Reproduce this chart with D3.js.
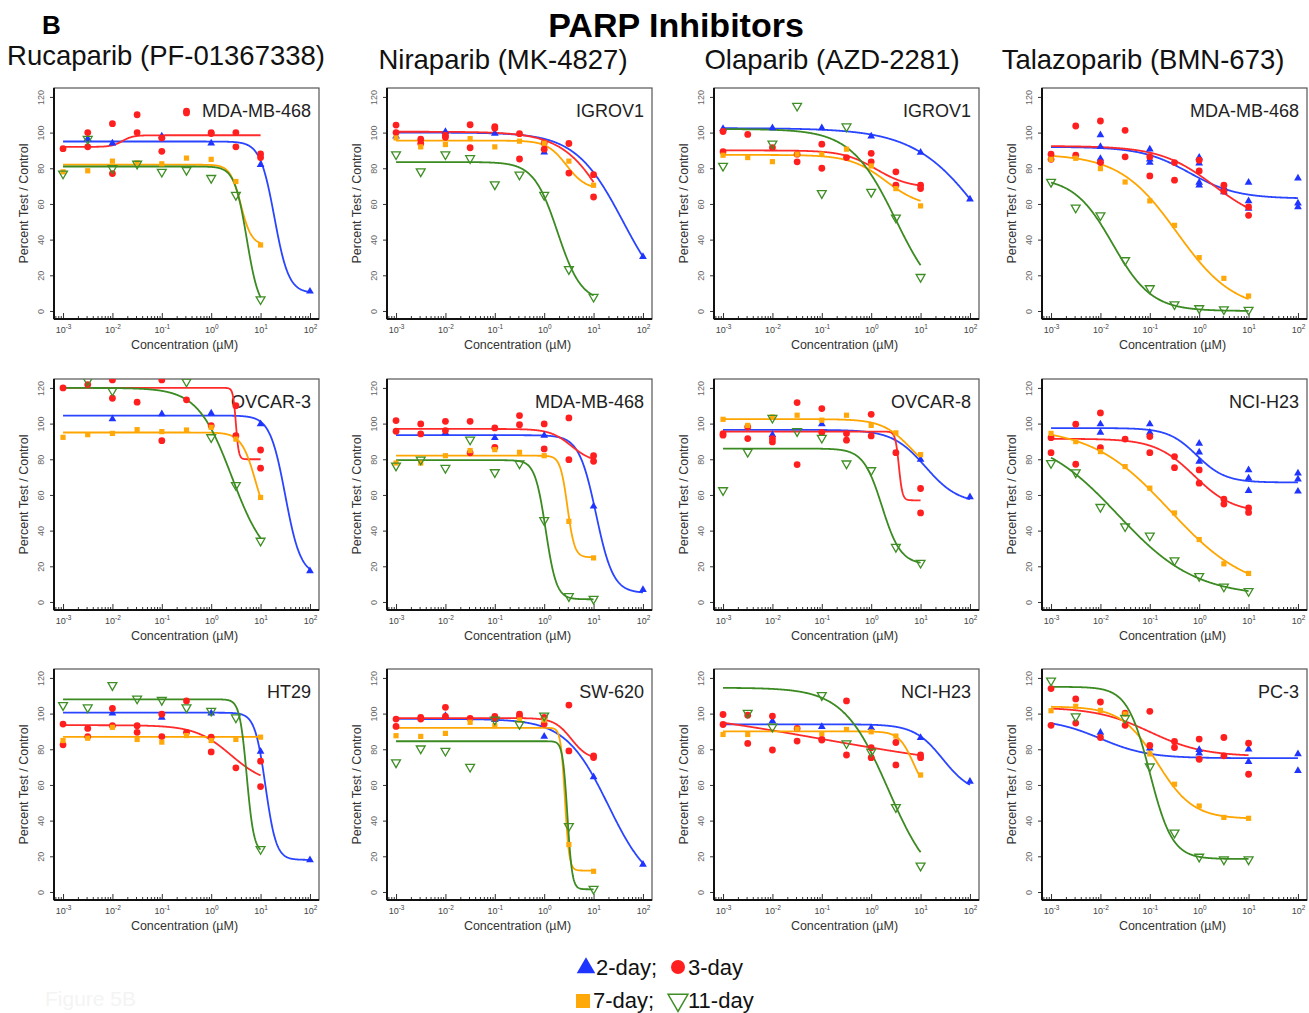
<!DOCTYPE html>
<html>
<head>
<meta charset="utf-8">
<script src="https://cdn.jsdelivr.net/npm/d3@7"></script>
<style>
  body { margin: 0; background: #ffffff; }
  text { font-family: "Liberation Sans", Arial, sans-serif; }
</style>
</head>
<body>
<script>
// Chart values.
const drugNames = ['Rucaparib (PF-01367338)', 'Niraparib (MK-4827)', 'Olaparib (AZD-2281)', 'Talazoparib (BMN-673)'];
const seriesNames = ['2-day', '3-day', '7-day', '11-day'];
const yTicks = [0, 20, 40, 60, 80, 100, 120];
const xTickExps = [-3, -2, -1, 0, 1, 2];

// Points are [log10 concentration (uM), percent test / control], one list per series: 2, 3, 7, 11 day.
// Fits are [top, bottom, log10 EC50, hill slope, log10 from, log10 to] for the same series.
const rucaMDA468Pts = [
  [[-2.5,96.6],[-2,94],[-1,98],[0,94],[1,82],[2,11]],
  [[-3,91],[-2.5,100],[-2.5,92],[-2,105],[-2,77],[-1.5,110],[-1.5,100],[-1,97],[-1,89.5],[-0.5,112],[-0.5,111],[0,100],[0,99.5],[0.5,100],[0.5,92],[1,88],[1,86]],
  [[-3,78],[-2.5,78.6],[-2,84],[-1.5,83],[-1,82.5],[-0.5,85.7],[0,85],[0.5,72.6],[1,37]],
  [[-3,77],[-2.5,96.4],[-2,80],[-1.5,82.5],[-1,78],[-0.5,79],[0,74.5],[0.5,65],[1,6.5]]
];
const rucaMDA468Fit = [[95,10,1.28,3,-3,2],[92,98.5,-1.8,4,-3,1],[82,37,0.6,4,-3,1],[81,0,0.72,3.5,-3,1]];

const niraIGROV1Pts = [
  [[-3,98],[-2,100.5],[-1,99.5],[0,89],[2,30.4]],
  [[-3,104.2],[-3,100],[-2.5,96.3],[-2.5,93.9],[-2,98.5],[-2,97.4],[-1.5,104.4],[-1.5,91.5],[-1,103.4],[-1,102.5],[-0.5,99.4],[-0.5,85.2],[0,94.2],[0,90.7],[0.5,93.9],[0.5,77.3],[1,76.4],[1,63.9]],
  [[-3,97],[-2.5,92],[-2,93.3],[-1.5,96.6],[-1,92],[-0.5,95.2],[0,94],[0.5,84],[1,70.5]],
  [[-3,87.8],[-2.5,78.2],[-2,87.8],[-1.5,85.6],[-1,70.9],[-0.5,76.4],[0,65],[0.5,23.4],[1,7.9]]
];
const niraIGROV1Fit = [[100,0,1.6,0.9,-3,2],[100.5,0,1.45,0.9,-3,1],[95.5,68,0.45,2.2,-3,1],[83.5,5,0.27,1.8,-3,1]];

const olaIGROV1Pts = [
  [[-3,102.2],[-2,102.6],[-1,102.6],[0,98],[1,88.8],[2,62.6]],
  [[-3,100.6],[-3,89.3],[-2.5,99],[-2,91.6],[-1.5,87.9],[-1.5,83.6],[-1,93.5],[-1,80],[-0.5,86],[0,88.4],[0,83.6],[0.5,78],[0.5,70.5],[1,70.5],[1,68.6]],
  [[-3,87.3],[-2.5,86],[-2,83.7],[-1.5,87.9],[-1,87.9],[-0.5,90.7],[0,81.3],[0.5,68.6],[1,58.9]],
  [[-3,81.3],[-2,93.8],[-1.5,115],[-1,66],[-0.5,103.4],[0,66.7],[0.5,52.3],[1,19]]
];
const olaIGROV1Fit = [[102.5,0,2.32,0.62,-3,2],[90,69,0.1,1.3,-3,1],[87.5,58,0.3,1.2,-3,1],[102,0,0.5,0.95,-3,1]];

const talaMDA468Pts = [
  [[-2,98.7],[-2,92.1],[-2,85.4],[-2,84.1],[-1,90.7],[-1,85],[-1,83.2],[0,86],[0,82.8],[0,72],[0,70.5],[0.5,69.2],[0.5,66.7],[1,72],[1,61.7],[1,57.4],[2,74.4],[2,60.4],[2,58.3]],
  [[-3,87.9],[-3,85],[-2.5,103.7],[-2.5,87.3],[-2,106.5],[-2,83.2],[-1.5,101.3],[-1.5,86.4],[-1,86.5],[-1,75.7],[-0.5,83.2],[-0.5,73.3],[0,84.5],[0,78.5],[0.5,70.5],[0.5,67.1],[1,58.3],[1,53.6]],
  [[-3,85],[-2.5,85.6],[-2,79.8],[-1.5,72.3],[-1,61.7],[-0.5,48],[0,29.9],[0.5,18.3],[1,8.4]],
  [[-3,72.3],[-2.5,57.9],[-2,53.6],[-1.5,28.4],[-1,12.7],[-0.5,3.7],[0,1.5],[0.5,0.9],[1,0.6]]
];
const talaMDA468Fit = [[92,63,-0.2,0.9,-3,2],[92.5,48,0.3,0.8,-3,1],[88,0,-0.45,0.75,-3,1],[75,0,-1.75,1.1,-3,1]];

const rucaOVCAR3Pts = [
  [[-2,102.6],[-1,105.4],[0,105.8],[1,99.8],[2,17.4]],
  [[-3,120],[-2.5,121.9],[-2,124.5],[-2,114.2],[-1.5,112],[-1,124.5],[-1,90.4],[-0.5,113.3],[0,98.8],[0.5,110],[0.5,93.2],[1,85.2],[1,75]],
  [[-3,92.3],[-2.5,93.8],[-2,94.5],[-1.5,96.6],[-1,95.5],[-0.5,96.4],[0,97.9],[0.5,91.3],[1,58.6]],
  [[-2.5,124],[-2,118.5],[-0.5,123.5],[0,92.3],[0.5,65.5],[1,34.3]]
];
const rucaOVCAR3Fit = [[104.5,15,1.5,2.8,-3,2],[120,80,0.5,15,-3,1],[95,40,0.9,3,-3,1],[120,20,0.42,1.25,-3,1]];

const niraMDA468Pts = [
  [[-2,94.8],[-1,92],[0,93.3],[1,53.6],[2,6.9]],
  [[-3,101.7],[-3,95.7],[-2.5,99.8],[-2.5,94.2],[-2,101.3],[-2,96.1],[-1.5,101.3],[-1.5,83.6],[-1,97.6],[-1,86.7],[-0.5,104.5],[-0.5,99.4],[0,99.8],[0,85.8],[0.5,103.2],[0.5,79.8],[1,82],[1,78.9]],
  [[-3,77.9],[-2.5,77.9],[-2,82],[-1.5,84.9],[-1,85.4],[-0.5,83.9],[0,82],[0.5,45.2],[1,24.7]],
  [[-3,76.4],[-2.5,79.8],[-2,75.1],[-1.5,91],[-1,72.7],[-0.5,77.6],[0,45.8],[0.5,3.2],[1,1.7]]
];
const niraMDA468Fit = [[93.5,5,1.05,2.5,-3,2],[97,78,0.55,2,-3,1],[82,25,0.47,6,-3,1],[79.5,1.5,0.03,4,-3,1]];

const olaOVCAR8Pts = [
  [[-2,93.8],[-1,99.8],[1,79.8],[2,58.9]],
  [[-3,94.4],[-3,93.5],[-2.5,98.1],[-2.5,91.6],[-2,91.6],[-2,89.7],[-1.5,111.8],[-1.5,77],[-1,108.4],[-1,95],[-0.5,94.4],[-0.5,90.7],[0,105.2],[0,93.1],[0.5,83.7],[1,63.6],[1,49.9]],
  [[-3,102.4],[-2.5,99],[-2,103.7],[-1.5,104.7],[-1,101.9],[-0.5,104.7],[0,99],[0.5,94.8],[1,82.6]],
  [[-3,62.6],[-2.5,84.1],[-2,103.2],[-1.5,95.7],[-1,92],[-0.5,77.6],[0,73.8],[0.5,30.8],[1,21.9]]
];
const olaOVCAR8Fit = [[96.5,55,1.1,1.3,-3,2],[95.5,57,0.56,12,-3,1],[102.5,70,0.8,1.5,-3,1],[86,21,0.22,2.3,-3,1]];

const talaNCIH23Pts = [
  [[-2,99.7],[-2,95],[-1,99.7],[-1,95],[0,88.9],[0,83.9],[0,78.7],[1,74],[1,69.4],[1,62.3],[2,72.2],[2,68.8],[2,62]],
  [[-3,92.1],[-3,83.7],[-2.5,99.7],[-2.5,77.2],[-2,106],[-2,86.5],[-1.5,91.3],[-1,92.7],[-1,83.7],[-0.5,81.5],[-0.5,75.3],[0,74],[0,66.6],[0.5,57.7],[0.5,54.9],[1,52.7],[1,50.2]],
  [[-3,94.5],[-2.5,89.9],[-2,84.3],[-1.5,75.9],[-1,63.8],[-0.5,49.9],[0,35],[0.5,21.4],[1,16]],
  [[-3,77.8],[-2.5,72.6],[-2,53.2],[-1.5,42.4],[-1,37.2],[-0.5,23.3],[0,14.5],[0.5,8.6],[1,6.1]]
];
const talaNCIH23Fit = [[97.5,67,-0.05,1.5,-3,2],[91.5,50,-0.1,1.1,-3,1],[98,5,-0.6,0.55,-3,1],[95,3,-1.65,0.55,-3,1]];

const rucaHT29Pts = [
  [[-2,100.2],[-1,97.8],[0,100.2],[1,78.8],[2,17.9]],
  [[-3,94.1],[-3,82.5],[-2.5,91.7],[-2.5,87.1],[-2,102.9],[-2,93.2],[-1.5,93.2],[-1.5,89.5],[-1,99.7],[-1,87.1],[-0.5,107.1],[-0.5,89.5],[0,86.8],[0,78.5],[0.5,69.6],[1,73.3],[1,59.1]],
  [[-3,84.9],[-2.5,86.2],[-2,92.3],[-1.5,85.5],[-1,84],[-0.5,87.7],[0,84.9],[0.5,85.5],[1,86.8]],
  [[-3,104.7],[-2.5,103.4],[-2,115.9],[-1.5,108.4],[-1,107.6],[-0.5,103.4],[0,101.5],[0.5,97.8],[1,24]]
];
const rucaHT29Fit = [[100.5,18,1.1,4,-3,2],[93.5,60,0.4,1.2,-3,1],[87,87,0,1,-3,1],[108,22,0.72,6,-3,1]];

const niraSW620Pts = [
  [[-2,98.8],[-1,96.6],[0,87.2],[1,64.5],[2,15.4]],
  [[-3,96.9],[-3,92.8],[-2.5,97.9],[-2.5,96.9],[-2,103.5],[-2,98.4],[-1.5,97.3],[-1,98.4],[-1,97.5],[-0.5,99.75],[-0.5,98.4],[0,97.9],[0,94.1],[0.5,104.8],[0.5,79.1],[1,76.3],[1,75.4]],
  [[-3,87.6],[-2.5,87.2],[-2,88.9],[-1.5,95.1],[-1,93.2],[-0.5,96.4],[0,96.4],[0.5,26.6],[1,11.6]],
  [[-3,72.6],[-2.5,80.4],[-2,79.1],[-1.5,70.1],[-1,96.6],[-0.5,94.1],[0,98.8],[0.5,36.9],[1,1.7]]
];
const niraSW620Fit = [[97,0,1.3,1,-3,2],[97.5,74,0.55,2.5,-3,1],[92,12,0.42,10,-3,1],[84.5,1.5,0.47,9,-3,1]];

const olaNCIH23Pts = [
  [[-2,95.8],[-1,92.6],[0,92],[1,86.5],[2,61.9]],
  [[-3,99.5],[-3,93.9],[-2.5,99.1],[-2.5,83.3],[-2,98.6],[-2,79.6],[-1.5,91.7],[-1.5,84.6],[-1,85.5],[-1,85.2],[-0.5,107.1],[-0.5,76.8],[0,80.9],[0,75.3],[0.5,83.8],[0.5,71.2],[1,76.8],[1,75.3]],
  [[-3,88.3],[-2.5,88.3],[-1.5,91.3],[-1,88.8],[-0.5,91.1],[0,89.8],[0.5,87.4],[1,65.6]],
  [[-2.5,100.4],[-2,92.6],[-1,110.3],[-0.5,83.3],[0,78.6],[0.5,47.5],[1,14.7]]
];
const olaNCIH23Fit = [[94,55,1.45,1.5,-3,2],[107,64.5,-1,0.2,-3,1],[90,55,0.85,3,-3,1],[114.5,0,0.35,0.95,-3,1]];

const talaPC3Pts = [
  [[-2,89.4],[-1,80.6],[0,79.7],[0,77.8],[1,80],[1,73],[2,77.4],[2,68]],
  [[-3,114],[-3,93.4],[-2.5,108.2],[-2.5,94.7],[-2,106.5],[-2,86.6],[-1.5,100.3],[-1.5,93.4],[-1,101.3],[-1,82.1],[-0.5,84.4],[-0.5,81],[0,85.7],[0,74.4],[0.5,86.6],[0.5,76.3],[1,83.4],[1,66]],
  [[-3,101.6],[-2.5,104.1],[-2,101.8],[-1.5,99.75],[-1,77.4],[-0.5,60.4],[0,48.2],[0.5,41.8],[1,41.3]],
  [[-3,118.5],[-2.5,98.4],[-1.5,97.5],[-1,70.3],[-0.5,33.2],[0,19.7],[0.5,18.2],[1,18.2]]
];
const talaPC3Fit = [[97,75,-2,0.9,-3,2],[103.5,76,-1,0.8,-3,1],[104,41,-0.85,1.2,-3,1],[115,18.5,-1,1.9,-3,1]];

// Panel grid: [column, row, cell line, points, fits].
const panels = [
  [0, 0, 'MDA-MB-468', rucaMDA468Pts, rucaMDA468Fit],
  [1, 0, 'IGROV1', niraIGROV1Pts, niraIGROV1Fit],
  [2, 0, 'IGROV1', olaIGROV1Pts, olaIGROV1Fit],
  [3, 0, 'MDA-MB-468', talaMDA468Pts, talaMDA468Fit],
  [0, 1, 'OVCAR-3', rucaOVCAR3Pts, rucaOVCAR3Fit],
  [1, 1, 'MDA-MB-468', niraMDA468Pts, niraMDA468Fit],
  [2, 1, 'OVCAR-8', olaOVCAR8Pts, olaOVCAR8Fit],
  [3, 1, 'NCI-H23', talaNCIH23Pts, talaNCIH23Fit],
  [0, 2, 'HT29', rucaHT29Pts, rucaHT29Fit],
  [1, 2, 'SW-620', niraSW620Pts, niraSW620Fit],
  [2, 2, 'NCI-H23', olaNCIH23Pts, olaNCIH23Fit],
  [3, 2, 'PC-3', talaPC3Pts, talaPC3Fit]
];

// Layout.
const colLeft = [54, 387, 714, 1042];
const rowTop = [88, 379, 669];
const boxW = 265, boxH = 231;
const markColor = ['#1f35ff', '#ff1f1f', '#ffa80a', '#3e8e25'];
const lineColor = ['#2a45ff', '#ff2b2b', '#ffa500', '#3b8a22'];

const svg = d3.select('body')
      .append('svg')
      .attr('width', 1309)
      .attr('height', 1013)
      .style('background-color', '#ffffff');

const x = d3.scaleLog().domain([Math.pow(10, -3.183), Math.pow(10, 2.183)]).range([0, boxW]);
const y = d3.scaleLinear().domain([-4.5, 125]).range([boxH, 0]);

// Titles.
svg.append('text').attr('x', 42).attr('y', 34)
  .style('font-size', '26px').style('font-weight', 'bold').text('B');
svg.append('text').attr('x', 676).attr('y', 37).attr('text-anchor', 'middle')
  .style('font-size', '34px').style('font-weight', 'bold').text('PARP Inhibitors');

const titleX = [166, 503, 832, 1143];
const titleY = [65, 69, 69, 69];
drugNames.forEach((name, i) =>
  {
    svg.append('text')
      .attr('x', titleX[i])
      .attr('y', titleY[i])
      .attr('text-anchor', 'middle')
      .style('font-size', '27.5px')
      .style('fill', '#111')
      .text(name);
  });

// Markers for each series.
function drawMark(g, s, px, py)
{
  if (s == 0)
  {
    g.append('path').attr('d', d3.symbol(d3.symbolTriangle, 26)())
      .attr('transform', 'translate(' + px + ',' + py + ')')
      .style('fill', markColor[0]);
  }
  else if (s == 1)
  {
    g.append('circle').attr('cx', px).attr('cy', py).attr('r', 3.4)
      .style('fill', markColor[1]);
  }
  else if (s == 2)
  {
    g.append('rect').attr('x', px - 2.6).attr('y', py - 2.6).attr('width', 5.2).attr('height', 5.2)
      .style('fill', markColor[2]);
  }
  else
  {
    g.append('path').attr('d', d3.symbol(d3.symbolTriangle, 34)())
      .attr('transform', 'translate(' + px + ',' + py + ') rotate(180)')
      .style('fill', 'none')
      .style('stroke', markColor[3])
      .style('stroke-width', 1.3);
  }
}

// Fitted logistic curve.
function hill(p, lx)
{
  return p[1] + (p[0] - p[1]) / (1 + Math.pow(10, p[3] * (lx - p[2])));
}

const line = d3.line()
      .x((d) => x(Math.pow(10, d[0])))
      .y((d) => y(d[1]));

panels.forEach((pan, k) =>
  {
    const [col, row, cell, pts, fits] = pan;
    const g = svg.append('g')
          .attr('transform', 'translate(' + colLeft[col] + ',' + rowTop[row] + ')');

    g.append('clipPath').attr('id', 'clip' + k)
      .append('rect').attr('width', boxW).attr('height', boxH);

    // Y axis.
    const yAxis = g.append('g')
          .call(d3.axisLeft(y).tickValues(yTicks).tickSize(4).tickSizeOuter(0));
    yAxis.select('.domain').remove();
    yAxis.selectAll('line').style('stroke', '#333');
    yAxis.selectAll('text')
      .attr('transform', 'rotate(-90)')
      .attr('x', 0)
      .attr('dx', 0)
      .attr('y', -10)
      .attr('dy', 0)
      .style('text-anchor', 'middle')
      .style('font-size', '9px')
      .style('fill', '#666');

    // X axis, minor ticks then major ticks.
    const minor = [];
    for (let e = -4; e <= 2; e++)
    {
      for (let m = 2; m <= 9; m++)
      {
        const v = m * Math.pow(10, e);
        if (v > x.domain()[0] && v < x.domain()[1]) minor.push(v);
      }
    }
    const xMinor = g.append('g').attr('transform', 'translate(0,' + boxH + ')')
          .call(d3.axisBottom(x).tickValues(minor).tickSize(-3).tickFormat(''));
    xMinor.select('.domain').remove();
    xMinor.selectAll('line').style('stroke', '#333');

    const xAxis = g.append('g').attr('transform', 'translate(0,' + boxH + ')')
          .call(d3.axisBottom(x).tickValues(xTickExps.map((e) => Math.pow(10, e))).tickSize(-6).tickFormat(''));
    xAxis.select('.domain').remove();
    xAxis.selectAll('line').style('stroke', '#333');
    xAxis.selectAll('.tick').each(function (d, i)
      {
        const t = d3.select(this).append('text')
              .attr('y', 14)
              .style('text-anchor', 'middle')
              .style('font-size', '9px')
              .style('fill', '#444');
        t.append('tspan').text('10');
        t.append('tspan').attr('dy', -4).style('font-size', '6.5px').text(xTickExps[i]);
      });

    // Frame and axis lines.
    g.append('rect').attr('width', boxW).attr('height', boxH)
      .style('fill', 'none').style('stroke', '#555').style('stroke-width', 1.2);
    g.append('line').attr('x1', 0).attr('x2', 0).attr('y1', 0).attr('y2', boxH)
      .style('stroke', '#111').style('stroke-width', 2);
    g.append('line').attr('x1', 0).attr('x2', boxW).attr('y1', boxH).attr('y2', boxH)
      .style('stroke', '#111').style('stroke-width', 2);

    // Axis titles.
    g.append('text')
      .attr('transform', 'translate(-26,' + (boxH / 2) + ') rotate(-90)')
      .style('text-anchor', 'middle')
      .style('font-size', '12.5px')
      .style('fill', '#333')
      .text('Percent Test / Control');
    g.append('text')
      .attr('x', boxW / 2 - 2)
      .attr('y', boxH + 30)
      .style('text-anchor', 'middle')
      .style('font-size', '12.5px')
      .style('fill', '#333')
      .text('Concentration (\u00b5M)');

    // Cell line label.
    g.append('text')
      .attr('x', boxW - 8)
      .attr('y', 29)
      .style('text-anchor', 'end')
      .style('font-size', '18px')
      .style('fill', '#222')
      .text(cell);

    const plot = g.append('g').attr('clip-path', 'url(#clip' + k + ')');

    // Curves.
    fits.forEach((p, s) =>
      {
        const curve = [];
        for (let lx = p[4]; lx <= p[5] + 1e-9; lx += 0.01)
        {
          curve.push([lx, hill(p, lx)]);
        }
        plot.append('path')
          .datum(curve)
          .attr('d', line)
          .style('fill', 'none')
          .style('stroke', lineColor[s])
          .style('stroke-width', 1.8);
      });

    // Points.
    pts.forEach((list, s) =>
      {
        list.forEach((d) =>
          {
            drawMark(plot, s, x(Math.pow(10, d[0])), y(d[1]));
          });
      });
  });

// Legend.
const legend = svg.append('g');
const legendRows = [[0, 1], [2, 3]];
const legendX = [[586, 678], [583, 678]];
const legendY = [967, 1000];
legendRows.forEach((pair, r) =>
  {
    pair.forEach((s, j) =>
      {
        const cx = legendX[r][j];
        const cy = legendY[r];
        if (s == 0)
        {
          legend.append('path').attr('d', d3.symbol(d3.symbolTriangle, 150)())
            .attr('transform', 'translate(' + cx + ',' + (cy + 1) + ')').style('fill', markColor[0]);
        }
        else if (s == 1)
        {
          legend.append('circle').attr('cx', cx).attr('cy', cy).attr('r', 7).style('fill', markColor[1]);
        }
        else if (s == 2)
        {
          legend.append('rect').attr('x', cx - 7).attr('y', cy - 6).attr('width', 14).attr('height', 14).style('fill', markColor[2]);
        }
        else
        {
          legend.append('path').attr('d', d3.symbol(d3.symbolTriangle, 170)())
            .attr('transform', 'translate(' + cx + ',' + cy + ') rotate(180)')
            .style('fill', 'none').style('stroke', markColor[3]).style('stroke-width', 1.5);
        }
        legend.append('text')
          .attr('x', cx + 10)
          .attr('y', cy + 8)
          .style('font-size', '22px')
          .style('fill', '#111')
          .text(seriesNames[s] + (j == 0 ? ';' : ''));
      });
  });

svg.append('text').attr('x', 45).attr('y', 1006)
  .style('font-size', '21px').style('fill', '#f4f4f4').text('Figure 5B');
</script>
</body>
</html>
